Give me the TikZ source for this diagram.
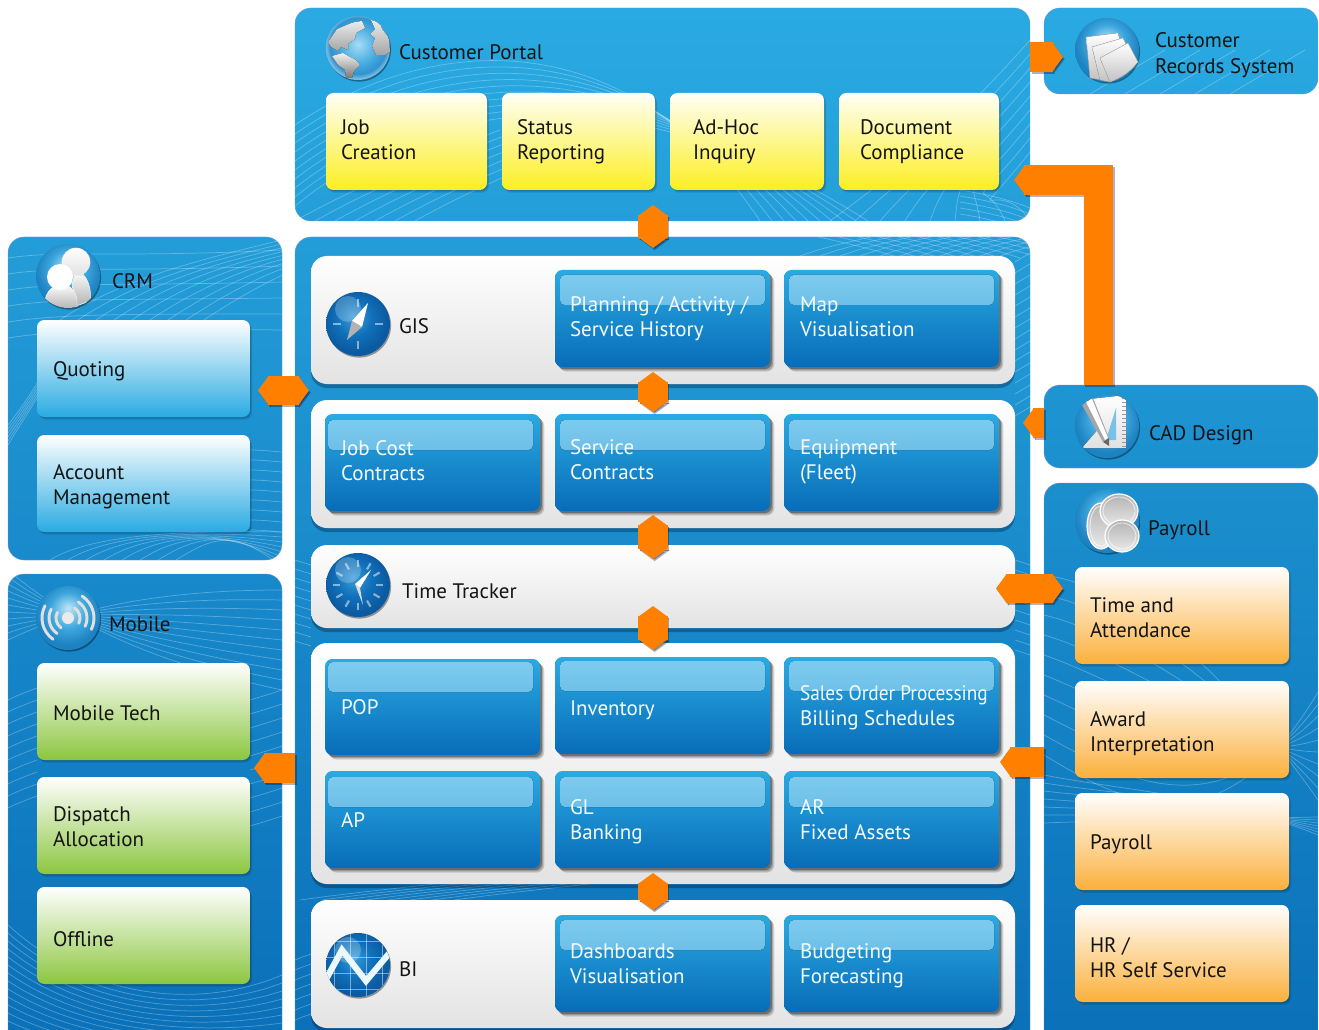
\documentclass[tikz,border=0pt]{standalone}
\usepackage{fontspec}
\setmainfont{PT Sans}
\usetikzlibrary{calc,shadows,arrows.meta}
\definecolor{orng}{RGB}{255,128,0}
\definecolor{bA}{RGB}{191,229,247}\definecolor{bB}{RGB}{62,167,222}\definecolor{bC}{RGB}{29,130,193}
\definecolor{dA}{RGB}{58,155,216}\definecolor{dB}{RGB}{15,112,186}\definecolor{dC}{RGB}{12,90,160}
\definecolor{gA}{RGB}{168,220,245}\definecolor{gB}{RGB}{69,171,224}\definecolor{gC}{RGB}{47,147,207}\definecolor{gD}{RGB}{120,185,225}
\pgfdeclareradialshading{lightball}{\pgfpoint{0bp}{8bp}}{color(0bp)=(bA); color(14bp)=(bB); color(25bp)=(bC); color(50bp)=(bC)}
\pgfdeclareradialshading{globeball}{\pgfpoint{0bp}{3bp}}{color(0bp)=(gA); color(15bp)=(gB); color(22bp)=(gC); color(25bp)=(gD); color(50bp)=(gD)}
\pgfdeclareradialshading{darkball}{\pgfpoint{-4bp}{6bp}}{color(0bp)=(dA); color(14bp)=(dB); color(25bp)=(dC); color(50bp)=(dC)}
\newcommand\mk[3]{\definecolor{#1}{RGB}{#2}\definecolor{#1b}{RGB}{#3}}
\mk{pA}{42,170,226}{35,158,217}
\mk{pB}{42,170,226}{39,165,222}
\mk{pC}{35,157,216}{10,111,184}
\mk{pD}{35,157,216}{25,138,203}
\mk{pE}{24,137,203}{10,111,184}
\mk{pF}{30,149,210}{27,144,207}
\mk{pG}{27,143,206}{10,111,184}
\tikzset{
  panelbox/.style={rectangle,rounded corners=12pt,inner sep=0pt,outer sep=0pt,draw=white!55!cyan!70!blue,line width=.3pt},
  whitepanel/.style={rectangle,rounded corners=12pt,inner sep=0pt,outer sep=0pt,top color=white,bottom color=black!11,
    drop shadow={shadow xshift=0pt,shadow yshift=-3pt,opacity=.28,fill=black!90!blue}},
  softbox/.style={rectangle,rounded corners=5.5pt,inner sep=0pt,outer sep=0pt,
    drop shadow={shadow xshift=1.5pt,shadow yshift=-2pt,opacity=.12,fill=black},
    drop shadow={shadow xshift=.8pt,shadow yshift=-1pt,opacity=.12,fill=black}},
  yellowbox/.style={softbox,top color=white!97!yellow,bottom color={rgb,255:red,252;green,238;blue,33}},
  skybox/.style={softbox,top color=white,bottom color={rgb,255:red,41;green,171;blue,226}},
  greenbox/.style={softbox,top color=white,bottom color={rgb,255:red,140;green,198;blue,63}},
  orangebox/.style={softbox,top color=white,bottom color={rgb,255:red,251;green,176;blue,59}},
  bluebox/.style 2 args={rectangle,rounded corners=5.5pt,inner sep=0pt,outer sep=0pt,
    top color={rgb,255:red,42;green,170;blue,226},middle color={rgb,255:red,26;green,144;blue,212},bottom color={rgb,255:red,8;green,108;blue,184},
    drop shadow={shadow xshift=3.2pt,shadow yshift=-3.4pt,opacity=.14,fill=black},
    drop shadow={shadow xshift=2.4pt,shadow yshift=-2.6pt,opacity=.2,fill=black},
    drop shadow={shadow xshift=1.4pt,shadow yshift=-1.6pt,opacity=.3,fill=black},
    path picture={\fill[rounded corners=3.5pt,top color={rgb,255:red,128;green,204;blue,238},bottom color={rgb,255:red,76;green,170;blue,224}]
      ($(path picture bounding box.north west)+(#1,#2)$) rectangle ($(path picture bounding box.north west)+(#1+205,#2+30)$);}},
  wavy/.style={white,opacity=.28,line width=.55pt},
  ball/.style={circle,minimum size=48pt,inner sep=0pt,outer sep=0pt,drop shadow={shadow xshift=.8pt,shadow yshift=-1.2pt,opacity=.38,fill=black}},
  txt/.style={anchor=west,align=left,inner sep=0pt,outer sep=0pt,yshift=-1.5pt,text=black!92,font=\fontsize{15.75}{19.1}\selectfont},
  wtxt/.style={txt,text=white!96!cyan},
  linkbase/.style={line width=22pt,line cap=butt,line join=miter},
  linkmain/.style={linkbase,draw=orng},
  linkshade/.style={linkbase,draw=black!85!blue,opacity=.3,transform canvas={xshift=1.2pt,yshift=-1.6pt}},
  twohead/.style={{Triangle[length=8.2pt,width=22pt]}-{Triangle[length=8.2pt,width=22pt]}},
  onehead/.style={-{Triangle[length=8.2pt,width=22pt]}},
  paper/.style={top color=white,bottom color=black!24,draw=black!30,line width=.3pt},
  silver/.style={top color=white,bottom color=black!30,draw=white,line width=.4pt},
  coin/.style={top color=black!30,bottom color=black!8,draw=white,line width=.9pt},
  coinrim/.style={draw=white,opacity=.7,line width=.6pt},
}
\newcommand\pbox[6]{\node[#1,minimum width={(#5-#3)*0.75pt},minimum height={(#6-#4)*0.75pt}] (#2) at ({(#3+#5)/2},{(#4+#6)/2}) {};}
\newcommand\tlab[5][txt]{\node[#1] (#2) at (#3,#4) {#5};}
\newcommand\wv[9]{\foreach \i in {0,...,#1}{\draw[wavy] ($(#2)+\i*(#3)$) .. controls ($(#4)+\i*(#5)$) and ($(#6)+\i*(#7)$) .. ($(#8)+\i*(#9)$);}}
\newcommand\pclip[5]{\clip[rounded corners=12pt] (#1,#2) rectangle (#3,#4);#5}
\newcommand\olink[2][]{\draw[linkshade,#1] #2;\draw[linkmain,#1] #2;}
\begin{document}
\begin{tikzpicture}[x=0.75pt,y=-0.75pt]
\useasboundingbox (0,0) rectangle (1319,1030);
% panels
\pbox{panelbox,top color=pA,bottom color=pAb}{portal}{295}{8}{1030}{221}
\pbox{panelbox,top color=pB,bottom color=pBb}{records}{1044}{8}{1318}{94}
\pbox{panelbox,top color=pC,bottom color=pCb}{mainp}{295}{237}{1030}{1060}
\pbox{panelbox,top color=pD,bottom color=pDb}{crm}{8}{237}{282}{560}
\pbox{panelbox,top color=pE,bottom color=pEb}{mobile}{8}{574}{282}{1060}
\pbox{panelbox,top color=pF,bottom color=pFb}{cad}{1044}{385}{1318}{468}
\pbox{panelbox,top color=pG,bottom color=pGb}{payp}{1044}{483}{1318}{1060}
% background waves
\begin{scope}\pclip{295}{8}{1030}{221}{
  \wv{9}{295,125}{0,9}{420,40}{0,7}{620,10}{0,6}{760,221}{12,0}
  \wv{8}{830,221}{25,0}{900,170}{12,0}{960,120}{0,15}{1030,40}{0,14}
  \wv{6}{295,221}{20,0}{350,190}{20,0}{420,160}{20,0}{500,130}{20,0}
  \wv{4}{960,190}{0,6}{990,195}{0,6}{1010,200}{0,6}{1030,208}{0,6}}\end{scope}
\begin{scope}\pclip{1044}{8}{1318}{94}{\wv{4}{1090,94}{35,0}{1120,76}{35,0}{1140,65}{35,0}{1165,50}{35,0}}\end{scope}
\begin{scope}\pclip{295}{237}{1030}{1060}{
  \wv{10}{800,256}{20,0}{830,245}{20,0}{860,240}{20,0}{900,230}{20,0}
  \wv{10}{810,235}{20,0}{840,242}{20,0}{870,248}{20,0}{900,258}{20,0}
  \wv{14}{1015,262}{0,11}{1020,259}{0,11}{1025,256}{0,11}{1030,253}{0,11}
  \wv{9}{1015,560}{0,10}{1020,562}{0,10}{1025,563}{0,10}{1030,565}{0,10}
  \wv{9}{295,560}{0,9}{300,562}{0,9}{305,563}{0,9}{311,565}{0,9}
  \wv{7}{300,900}{22,0}{350,893}{22,0}{400,888}{22,0}{470,880}{22,0}
  \wv{6}{295,960}{0,10}{300,958}{0,10}{305,956}{0,10}{311,954}{0,10}}\end{scope}
\begin{scope}\pclip{8}{237}{282}{560}{
  \wv{8}{60,320}{18,0}{120,280}{18,0}{190,262}{15,0}{282,240}{4,3}
  \wv{5}{8,258}{0,16}{60,250}{0,16}{120,258}{0,14}{282,250}{0,16}
  \wv{5}{8,425}{0,4}{20,410}{0,3}{30,395}{0,3}{42,375}{0,3}
  \wv{8}{250,450}{0,10}{260,450}{0,10}{270,451}{0,10}{282,452}{0,10}
  \wv{7}{50,560}{18,0}{90,535}{18,0}{180,530}{8,0}{282,532}{0,5}}\end{scope}
\begin{scope}\pclip{8}{574}{282}{1060}{
  \wv{10}{8,640}{0,-7}{90,600}{0,4}{190,590}{0,8}{282,590}{0,10}
  \wv{9}{8,700}{0,12}{16,696}{0,12}{26,692}{0,12}{37,688}{0,12}
  \wv{9}{250,700}{0,14}{260,697}{0,14}{270,694}{0,14}{282,690}{0,14}
  \wv{12}{8,925}{0,8}{90,1000}{0,5}{200,1010}{0,4}{282,975}{0,8}}\end{scope}
\begin{scope}\pclip{1044}{483}{1318}{1060}{
  \wv{9}{1044,575}{0,20}{1120,585}{0,24}{1220,660}{0,22}{1318,800}{0,-12}
  \wv{6}{1044,775}{0,8}{1120,790}{0,5}{1220,795}{0,4}{1318,835}{0,-3}}\end{scope}
% white bands
\pbox{whitepanel}{gis}{311}{256}{1015}{384}
\pbox{whitepanel}{contracts}{311}{400}{1015}{528}
\pbox{whitepanel}{tracker}{311}{545}{1015}{628}
\pbox{whitepanel}{finance}{311}{643}{1015}{884}
\pbox{whitepanel}{bi}{311}{900}{1015}{1028}
% yellow
\pbox{yellowbox}{yjob}{326}{93}{487}{190}
\pbox{yellowbox}{ystatus}{502}{93}{655}{190}
\pbox{yellowbox}{yadhoc}{670}{93}{824}{190}
\pbox{yellowbox}{ydoc}{839}{93}{999}{190}
% CRM
\pbox{skybox}{squote}{37}{320}{250}{417}
\pbox{skybox}{saccount}{37}{435}{250}{532}
% Mobile
\pbox{greenbox}{gtech}{37}{663}{250}{760}
\pbox{greenbox}{gdispatch}{37}{777}{250}{874}
\pbox{greenbox}{goffline}{37}{887}{250}{984}
% Payroll
\pbox{orangebox}{otime}{1075}{567}{1289}{664}
\pbox{orangebox}{oaward}{1075}{681}{1289}{778}
\pbox{orangebox}{opay}{1075}{793}{1289}{890}
\pbox{orangebox}{ohr}{1075}{905}{1289}{1002}
% blue modules
\pbox{bluebox={5}{5}}{bplan}{555}{270}{770}{367}
\pbox{bluebox={5}{5}}{bmap}{784}{270}{999}{367}
\pbox{bluebox={3}{6}}{bjob}{325}{414}{540}{511}
\pbox{bluebox={5}{6}}{bserv}{555}{414}{770}{511}
\pbox{bluebox={5}{6}}{bequip}{784}{414}{999}{511}
\pbox{bluebox={3}{3}}{bpop}{325}{659}{540}{755}
\pbox{bluebox={5}{4}}{binv}{555}{657}{770}{754}
\pbox{bluebox={5}{4}}{bsales}{784}{657}{999}{754}
\pbox{bluebox={3}{6}}{bap}{325}{771}{540}{868}
\pbox{bluebox={5}{6}}{bgl}{555}{771}{770}{868}
\pbox{bluebox={5}{6}}{bar}{784}{771}{999}{868}
\pbox{bluebox={5}{5}}{bdash}{555}{915}{770}{1012}
\pbox{bluebox={5}{5}}{bbudget}{784}{915}{999}{1012}
% icon: globe
\node[ball,shading=globeball] (icglobe) at (358,48) {};
\begin{scope}[shift={(358,48)}]
 \clip (0,0) circle [radius=32];
 \fill[top color=white,bottom color=black!30,opacity=.92] (-30,-6)--(-21,-19)--(-9,-24)--(-3,-26)--(4,-27)--(7,-20)--(-2,-15)--(-3,-9)--(-10,-4)--(-10,2)--(-17,-1)--(-20,3)--(-27,-1)--cycle;
 \fill[top color=white,bottom color=black!50,opacity=.95] (-26,8)--(-15,5)--(-8,9)--(-2,12)--(2,17)--(-4,23)--(-6,30)--(-12,30)--(-13,22)--(-20,17)--cycle;
 \fill[top color=white,bottom color=black!30,opacity=.92] (13,-28)--(22,-25)--(24,-19)--(31,-10)--(32,4)--(27,7)--(18,7)--(14,-2)--(17,-10)--(12,-14)--(17,-19)--cycle;
\end{scope}
% icon: records
\node[ball,shading=lightball] (icrecords) at (1107,50) {};
\begin{scope}[shift={(1107,50)}]
 \filldraw[paper] (-21,-13)--(11,-17)--(15,0)--(-5,30)--(-17,28)--cycle;
 \filldraw[paper] (-15,-3)--(16,-12)--(23,3)--(3,32)--(-7,30)--cycle;
 \filldraw[paper] (-7,8)--(21,-7)--(31,12) to[bend left=15] (3,32)--cycle;
\end{scope}
% icon: cad
\node[ball,shading=lightball] (iccad) at (1107,426) {};
\begin{scope}[shift={(1107,426)}]
 \clip (0,0) circle [radius=32];
 \fill[top color=white,bottom color=black!12] (-17,-27)--(19,-31)--(19,22)--(-25,22)--(-7,1)--cycle;
 \fill[bB!70!white] (9,-18)--(9,14)--(-1,14)--cycle;
 \foreach \k in {-28,-24,...,20}{\draw[black!40,line width=.4pt] (19,\k)--(15,\k);}
 \fill[black!35] (-25,-21)--(-14,-28)--(2,12)--(-4,16)--cycle;
 \fill[white] (-21,-24)--(-15,-27)--(1,12)--(-2,14)--cycle;
 \fill[black!60] (2,12)--(-4,16)--(2,20)--cycle;
\end{scope}
% icon: payroll
\node[ball,shading=lightball] (icpay) at (1107,521) {};
\begin{scope}[shift={(1107,521)}]
 \filldraw[coin] (-6,5) ellipse [x radius=14,y radius=23];
 \draw[coinrim] (-6,5) ellipse [x radius=11,y radius=20];
 \filldraw[coin] (12,-10) ellipse [x radius=19,y radius=17];
 \draw[coinrim] (12,-10) ellipse [x radius=16,y radius=14];
 \filldraw[coin] (15,15) ellipse [x radius=17,y radius=16];
 \draw[coinrim] (15,15) ellipse [x radius=14,y radius=13];
\end{scope}
% icon: crm
\node[ball,shading=lightball] (iccrm) at (68,276) {};
\begin{scope}[shift={(68,276)}]
 \clip (0,0) circle [radius=32];
 \filldraw[silver] (8,-6)..controls (20,-2) and (24,14)..(22,25)--(8,30)--(4,8)--cycle;
 \filldraw[top color=white,bottom color=black!12,draw=white] (8,-14) circle [radius=14];
 \filldraw[silver] (-23,24)..controls (-20,10) and (-10,8)..(0,10)..controls (8,14) and (10,22)..(9,33)--(-16,33)--cycle;
 \fill[white] (-8,1) circle [radius=13];
\end{scope}
% icon: mobile
\node[ball,shading=lightball] (icmob) at (68,618) {};
\begin{scope}[shift={(68,618)}]
 \fill[white!92!black] (0,0) circle [radius=6];
 \foreach \r in {12,19,26}{
  \draw[white!88!black,line width=2.2pt,line cap=round] (-57:\r) arc [start angle=-57,end angle=26,radius=\r];
  \draw[white!88!black,line width=2.2pt,line cap=round] (125:\r) arc [start angle=125,end angle=208,radius=\r];
 }
\end{scope}
% icon: gis
\node[ball,shading=darkball] (icgis) at (358,324) {};
\begin{scope}[shift={(358,324)}]
 \fill[white,opacity=.22] (-10,-15) circle [radius=13];
 \foreach \a in {0,90,180,270}{\draw[white,opacity=.5,line width=1.6pt] (\a:17)--(\a:25);}
 \fill[white] (10,-21)--(-6,-3)--(4,3)--cycle;
 \fill[black!30] (-11,16)--(-6,-3)--(4,3)--cycle;
\end{scope}
% icon: clock
\node[ball,shading=darkball] (icclock) at (358,585) {};
\begin{scope}[shift={(358,585)}]
 \fill[white,opacity=.22] (-10,-15) circle [radius=13];
 \foreach \a in {0,30,...,330}{\draw[white,opacity=.5,line width=1.6pt] (\a:18)--(\a:25);}
 \fill[white] (13,-15)--(-3,-1)--(2,3)--cycle;
 \fill[white!85!black] (-3,-1)--(2,3)--(5,20)--cycle;
\end{scope}
% icon: bi
\node[ball,shading=darkball] (icbi) at (358,965) {};
\begin{scope}[shift={(358,965)}]
 \clip (0,0) circle [radius=32];
 \fill[white,opacity=.22] (-10,-15) circle [radius=13];
 \foreach \k in {-24,-8,8,24}{\draw[white,opacity=.45,line width=.7pt] (\k,-32)--(\k,32);\draw[white,opacity=.45,line width=.7pt] (-32,\k)--(32,\k);}
 \draw[white!92!cyan,line width=4.6pt,line join=miter] (-34,18)--(-16,-15)--(8,16)--(34,-15);
\end{scope}
% headers
\tlab{tportal}{399}{52}{\strut Customer Portal}
\tlab{trecords}{1155}{53.5}{\strut Customer\\\strut Records System}
\tlab{tcad}{1149}{433}{\strut CAD Design}
\tlab{tpay}{1148}{528}{\strut Payroll}
\tlab{tcrm}{112}{281}{\strut CRM}
\tlab{tmob}{109}{624}{\strut Mobile}
\tlab{tgis}{399}{326}{\strut GIS}
\tlab{tclock}{402}{591}{\strut Time Tracker}
\tlab{tbi}{399}{969}{\strut BI}
% yellow text
\tlab{t1}{341}{140}{\strut Job\\\strut Creation}
\tlab{t2}{517}{140}{\strut Status\\\strut Reporting}
\tlab{t3}{693}{140}{\strut Ad-Hoc\\\strut Inquiry}
\tlab{t4}{860}{140}{\strut Document\\\strut Compliance}
% side boxes
\tlab{t5}{53}{369}{\strut Quoting}
\tlab{t6}{53}{485}{\strut Account\\\strut Management}
\tlab{t7}{53}{713}{\strut Mobile Tech}
\tlab{t8}{53}{827}{\strut Dispatch\\\strut Allocation}
\tlab{t9}{53}{939}{\strut Offline}
\tlab{t10}{1090}{618}{\strut Time and\\\strut Attendance}
\tlab{t11}{1090}{732}{\strut Award\\\strut Interpretation}
\tlab{t12}{1090}{842}{\strut Payroll}
\tlab{t13}{1090}{958}{\strut HR /\\\strut HR Self Service}
% blue text
\tlab[wtxt]{b1}{570}{317}{\strut Planning / Activity /\\\strut Service History}
\tlab[wtxt]{b2}{800}{317}{\strut Map\\\strut Visualisation}
\tlab[wtxt]{b3}{341}{461}{\strut Job Cost\\\strut Contracts}
\tlab[wtxt]{b4}{570}{460}{\strut Service\\\strut Contracts}
\tlab[wtxt]{b5}{800}{460}{\strut Equipment\\\strut (Fleet)}
\tlab[wtxt]{b6}{341}{707}{\strut POP}
\tlab[wtxt]{b7}{570}{708}{\strut Inventory}
\tlab[wtxt]{b8}{800}{706}{\strut \scalebox{.92}[1]{Sales Order Processing}\\\strut Billing Schedules}
\tlab[wtxt]{b9}{341}{820}{\strut AP}
\tlab[wtxt]{b10}{570}{820}{\strut GL\\\strut Banking}
\tlab[wtxt]{b11}{800}{820}{\strut AR\\\strut Fixed Assets}
\tlab[wtxt]{b12}{570}{964}{\strut Dashboards\\\strut Visualisation}
\tlab[wtxt]{b13}{800}{964}{\strut Budgeting\\\strut Forecasting}
% connectors
\coordinate (hx) at (653,0);
\coordinate (ycrm) at (0,390.5);
\coordinate (ymob) at (0,768);
\coordinate (yrec) at (0,57);
\coordinate (ycadp) at (0,180);
\coordinate (xcadp) at (1098.5,0);
\coordinate (ycadc) at (0,423);
\coordinate (ytrk) at (0,588.5);
\coordinate (yfin) at (0,762);
\olink[twohead,shorten <=-12pt,shorten >=-8.25pt]{(portal.south -| hx) -- (mainp.north -| hx)}
\olink[twohead,shorten <=-9pt,shorten >=-9pt]{(gis.south -| hx) -- (contracts.north -| hx)}
\olink[twohead,shorten <=-9.75pt,shorten >=-10.5pt]{(contracts.south -| hx) -- (tracker.north -| hx)}
\olink[twohead,shorten <=-16.5pt,shorten >=-5.25pt]{(tracker.south -| hx) -- (finance.north -| hx)}
\olink[twohead,shorten <=-8.25pt,shorten >=-7.5pt]{(finance.south -| hx) -- (bi.north -| hx)}
\olink[twohead,shorten <=-18pt,shorten >=-10.5pt]{(crm.east |- ycrm) -- (mainp.west |- ycrm)}
\olink[onehead,shorten >=-21pt]{(mainp.west |- ymob) -- (mobile.east |- ymob)}
\olink[onehead,shorten >=-14.25pt]{(portal.east |- yrec) -- (records.west |- yrec)}
\olink[onehead,shorten >=-12pt]{(cad.north -| xcadp) |- (portal.east |- ycadp)}
\olink[onehead,shorten >=6pt]{(cad.west |- ycadc) -- (contracts.east |- ycadc)}
\olink[twohead,shorten <=-14.25pt,shorten >=-14.25pt]{(tracker.east |- ytrk) -- (payp.west |- ytrk)}
\olink[onehead,shorten >=-11.25pt]{(payp.west |- yfin) -- (finance.east |- yfin)}
\end{tikzpicture}
\end{document}
